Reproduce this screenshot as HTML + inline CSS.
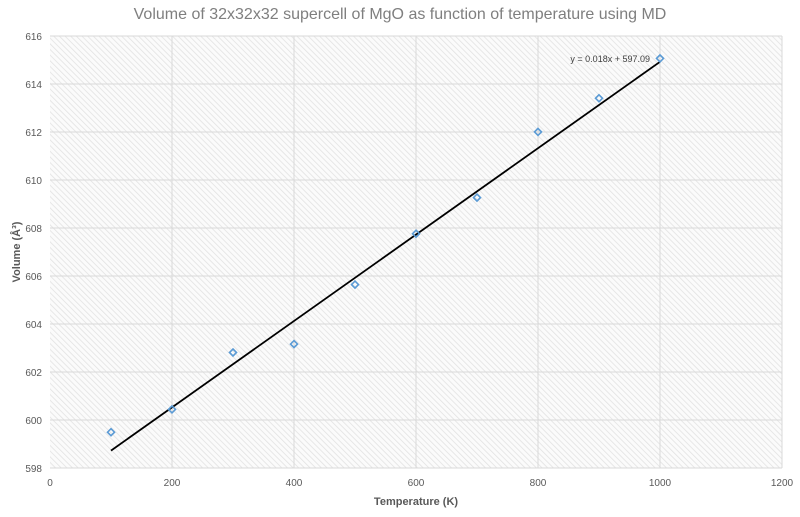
<!DOCTYPE html>
<html><head><meta charset="utf-8"><style>
body{margin:0;background:#fff;width:800px;height:512px;overflow:hidden}
text{font-family:"Liberation Sans",sans-serif}
</style></head><body>
<svg width="800" height="512" xmlns="http://www.w3.org/2000/svg">
<defs>
<pattern id="h" width="4" height="4" patternUnits="userSpaceOnUse" patternTransform="rotate(-45)">
<rect width="4" height="4" fill="#fbfbfb"/>
<line x1="0" y1="0" x2="0" y2="4" stroke="#e2e2e2" stroke-width="1.6"/>
</pattern>
</defs>
<text x="400" y="19" text-anchor="middle" font-size="16" fill="#7f7f7f">Volume of 32x32x32 supercell of MgO as function of temperature using MD</text>
<rect x="50" y="36" width="732" height="432" fill="url(#h)"/>
<g stroke="#d9d9d9" stroke-width="1">
<line x1="50" y1="36" x2="782" y2="36"/><line x1="50" y1="84" x2="782" y2="84"/><line x1="50" y1="132" x2="782" y2="132"/><line x1="50" y1="180" x2="782" y2="180"/><line x1="50" y1="228" x2="782" y2="228"/><line x1="50" y1="276" x2="782" y2="276"/><line x1="50" y1="324" x2="782" y2="324"/><line x1="50" y1="372" x2="782" y2="372"/><line x1="50" y1="420" x2="782" y2="420"/><line x1="50" y1="468" x2="782" y2="468"/>
<line x1="172" y1="36" x2="172" y2="468"/><line x1="294" y1="36" x2="294" y2="468"/><line x1="416" y1="36" x2="416" y2="468"/><line x1="538" y1="36" x2="538" y2="468"/><line x1="660" y1="36" x2="660" y2="468"/><line x1="782" y1="36" x2="782" y2="468"/>
</g>
<g font-size="10" fill="#595959" text-anchor="end">
<text x="42" y="40">616</text><text x="42" y="88">614</text><text x="42" y="136">612</text><text x="42" y="184">610</text><text x="42" y="232">608</text><text x="42" y="280">606</text><text x="42" y="328">604</text><text x="42" y="376">602</text><text x="42" y="424">600</text><text x="42" y="472">598</text>
</g>
<g font-size="10" fill="#595959" text-anchor="middle">
<text x="50" y="486">0</text><text x="172" y="486">200</text><text x="294" y="486">400</text><text x="416" y="486">600</text><text x="538" y="486">800</text><text x="660" y="486">1000</text><text x="782" y="486">1200</text>
</g>
<text x="416" y="505" text-anchor="middle" font-size="11" font-weight="bold" fill="#595959">Temperature (K)</text>
<text transform="translate(20,252) rotate(-90)" text-anchor="middle" font-size="11" font-weight="bold" fill="#595959">Volume (Å³)</text>
<line x1="111" y1="450.6" x2="660" y2="61.8" stroke="#000" stroke-width="1.8"/>
<g fill="none" stroke="#5b9bd5" stroke-width="1.6">
<path d="M111 428.7l3.5 3.5-3.5 3.5-3.5-3.5z"/><path d="M172 405.9l3.5 3.5-3.5 3.5-3.5-3.5z"/><path d="M233 349l3.5 3.5-3.5 3.5-3.5-3.5z"/><path d="M294 340.6l3.5 3.5-3.5 3.5-3.5-3.5z"/><path d="M355 281.1l3.5 3.5-3.5 3.5-3.5-3.5z"/><path d="M416 230.2l3.5 3.5-3.5 3.5-3.5-3.5z"/><path d="M477 194.1l3.5 3.5-3.5 3.5-3.5-3.5z"/><path d="M538 128.4l3.5 3.5-3.5 3.5-3.5-3.5z"/><path d="M599 94.8l3.5 3.5-3.5 3.5-3.5-3.5z"/><path d="M660 54.9l3.5 3.5-3.5 3.5-3.5-3.5z"/>
</g>
<text x="650" y="62" text-anchor="end" font-size="9" fill="#404040">y = 0.018x + 597.09</text>
</svg>
</body></html>
